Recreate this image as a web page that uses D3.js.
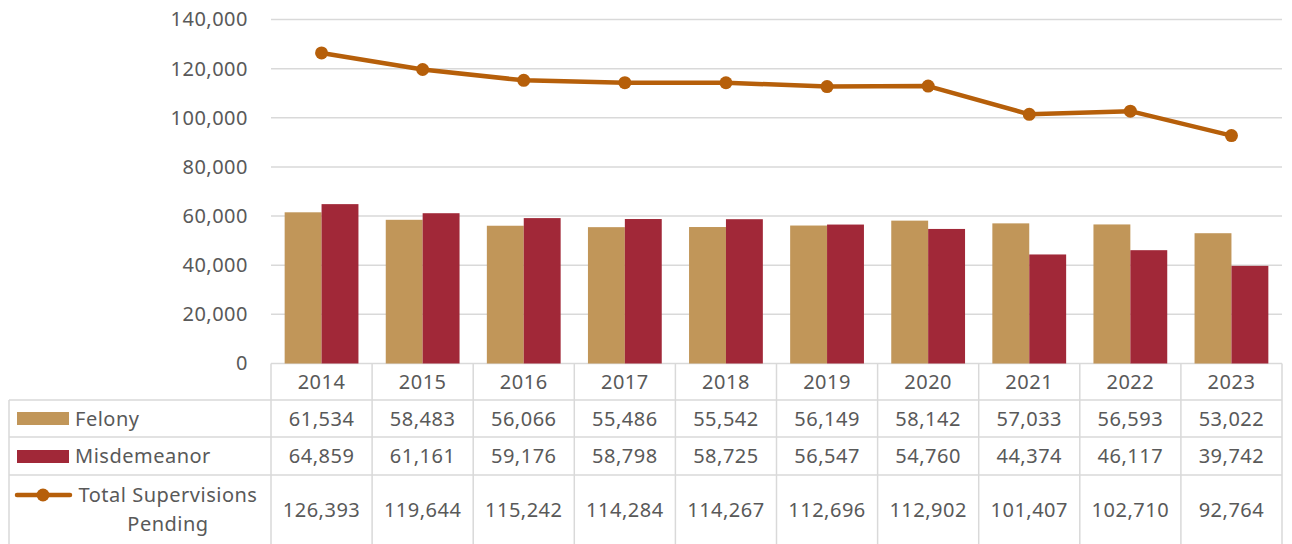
<!DOCTYPE html>
<html>
<head>
<meta charset="utf-8">
<script src="https://cdn.jsdelivr.net/npm/d3@7"></script>
<style>
  html, body { margin: 0; padding: 0; background: #fff; }
  svg { display: block; font-family: 'Noto Sans', 'Open Sans', sans-serif; }
</style>
</head>
<body>
<div id="chart"></div>
<script>
const years = ['2014', '2015', '2016', '2017', '2018', '2019', '2020', '2021', '2022', '2023']
const felony = [61534, 58483, 56066, 55486, 55542, 56149, 58142, 57033, 56593, 53022]
const misdemeanor = [64859, 61161, 59176, 58798, 58725, 56547, 54760, 44374, 46117, 39742]
const totalPending = [126393, 119644, 115242, 114284, 114267, 112696, 112902, 101407, 102710, 92764]
const yTicks = [0, 20000, 40000, 60000, 80000, 100000, 120000, 140000]

const width = 1292
const height = 544
const plot = { left: 271, right: 1282, top: 19.5, bottom: 363.5 }
const table = { left: 9, header: 400, row1: 437, row2: 475, bottom: 560 }

const colFelony = '#C19659'
const colMisd = '#A12838'
const colLine = '#B65F0A'
const gridCol = '#D9D9D9'
const textCol = '#595959'
const fontSize = '20px'
const spacing = '0.5px'

const svg = d3.select('#chart').append('svg')
  .attr('width', width)
  .attr('height', height)

// scales
const x = d3.scaleBand().domain(years).range([plot.left, plot.right]).padding(0)
const xs = d3.scaleBand().domain(['felony', 'misd']).range([0, x.bandwidth()])
  .paddingInner(0).paddingOuter(0.37)
const y = d3.scaleLinear().domain([0, 140000]).range([plot.bottom, plot.top])

// gridlines
svg.append('g')
  .selectAll('line')
  .data(yTicks)
  .enter()
  .append('line')
  .attr('x1', plot.left)
  .attr('x2', plot.right)
  .attr('y1', d => y(d))
  .attr('y2', d => y(d))
  .attr('stroke', gridCol)
  .attr('stroke-width', 1.5)

// y axis labels
const yAxis = d3.axisLeft(y).tickValues(yTicks).tickFormat(d3.format(',')).tickSize(0).tickPadding(23)
const yg = svg.append('g').attr('transform', `translate(${plot.left},0)`).call(yAxis)
yg.select('.domain').remove()
yg.selectAll('text')
  .attr('fill', textCol)
  .attr('font-size', fontSize)
  .attr('letter-spacing', spacing)
  .attr('font-family', "'Noto Sans', sans-serif")

// bars
const series = [
  { key: 'felony', values: felony, color: colFelony },
  { key: 'misd', values: misdemeanor, color: colMisd }
]
series.forEach(s => {
  svg.append('g')
    .selectAll('rect')
    .data(s.values)
    .enter()
    .append('rect')
    .attr('x', (d, i) => x(years[i]) + xs(s.key))
    .attr('y', d => y(d))
    .attr('width', xs.bandwidth())
    .attr('height', d => y(0) - y(d))
    .attr('fill', s.color)
})

// line
const line = d3.line()
  .x((d, i) => x(years[i]) + x.bandwidth() / 2)
  .y(d => y(d))
svg.append('path')
  .datum(totalPending)
  .attr('d', line)
  .attr('fill', 'none')
  .attr('stroke', colLine)
  .attr('stroke-width', 4.5)
  .attr('stroke-linejoin', 'round')
svg.append('g')
  .selectAll('circle')
  .data(totalPending)
  .enter()
  .append('circle')
  .attr('cx', (d, i) => x(years[i]) + x.bandwidth() / 2)
  .attr('cy', d => y(d))
  .attr('r', 6.5)
  .attr('fill', colLine)

// data table borders
const tg = svg.append('g').attr('stroke', gridCol).attr('stroke-width', 1.5)
const colEdges = years.map(yr => x(yr)).concat([plot.right])
colEdges.forEach(cx => {
  tg.append('line').attr('x1', cx).attr('x2', cx).attr('y1', plot.bottom).attr('y2', table.bottom)
})
tg.append('line').attr('x1', table.left).attr('x2', table.left).attr('y1', table.header).attr('y2', table.bottom)
;[table.header, table.row1, table.row2].forEach(ry => {
  tg.append('line').attr('x1', table.left).attr('x2', plot.right).attr('y1', ry).attr('y2', ry)
})

// table text
const fmt = d3.format(',')
const tt = svg.append('g').attr('fill', textCol).attr('font-size', fontSize).attr('letter-spacing', spacing)
tt.selectAll('.yr')
  .data(years)
  .enter()
  .append('text')
  .attr('x', d => x(d) + x.bandwidth() / 2)
  .attr('y', (plot.bottom + table.header) / 2)
  .attr('dy', '0.35em')
  .attr('text-anchor', 'middle')
  .text(d => d)

const rows = [
  { values: felony, cy: (table.header + table.row1) / 2 },
  { values: misdemeanor, cy: (table.row1 + table.row2) / 2 },
  { values: totalPending, cy: 510 }
]
rows.forEach(r => {
  tt.append('g')
    .selectAll('text')
    .data(r.values)
    .enter()
    .append('text')
    .attr('x', (d, i) => x(years[i]) + x.bandwidth() / 2)
    .attr('y', r.cy)
    .attr('dy', '0.35em')
    .attr('text-anchor', 'middle')
    .text(d => fmt(d))
})

// legend keys
svg.append('rect').attr('x', 17).attr('y', 412).attr('width', 52).attr('height', 13).attr('fill', colFelony)
svg.append('rect').attr('x', 17).attr('y', 450).attr('width', 52).attr('height', 13).attr('fill', colMisd)
svg.append('line').attr('x1', 17).attr('x2', 70).attr('y1', 495).attr('y2', 495)
  .attr('stroke', colLine).attr('stroke-width', 4.5).attr('stroke-linecap', 'round')
svg.append('circle').attr('cx', 43).attr('cy', 495).attr('r', 6.5).attr('fill', colLine)

tt.append('text').attr('x', 75).attr('y', (table.header + table.row1) / 2).attr('dy', '0.35em').text('Felony')
tt.append('text').attr('x', 75).attr('y', (table.row1 + table.row2) / 2).attr('dy', '0.35em').text('Misdemeanor')
tt.append('text').attr('x', 168).attr('y', 495).attr('dy', '0.35em').attr('text-anchor', 'middle').text('Total Supervisions')
tt.append('text').attr('x', 168).attr('y', 524).attr('dy', '0.35em').attr('text-anchor', 'middle').text('Pending')
</script>
</body>
</html>
